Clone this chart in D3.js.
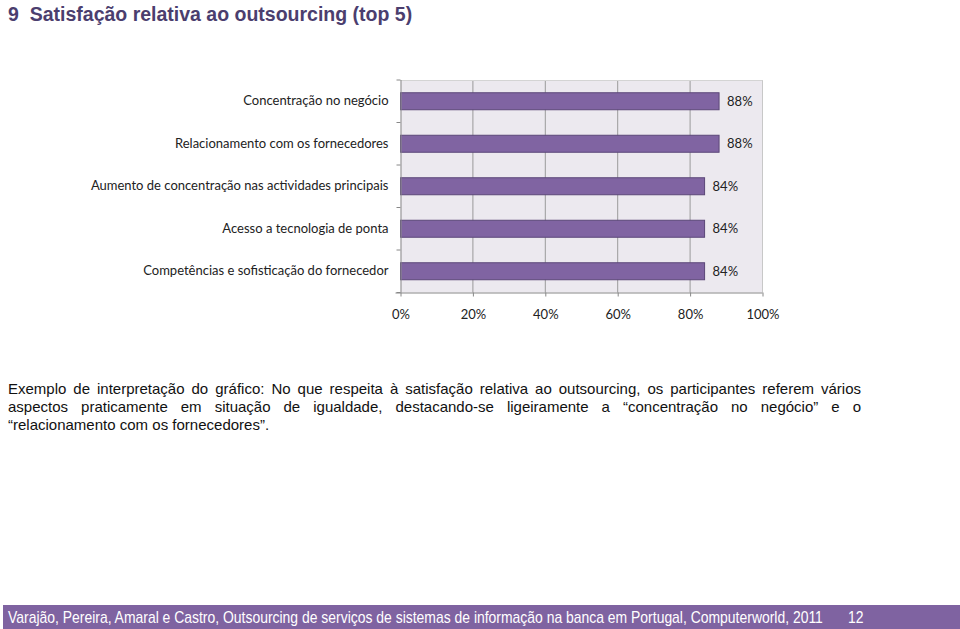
<!DOCTYPE html>
<html>
<head>
<meta charset="utf-8">
<script src="https://cdn.jsdelivr.net/npm/d3@7"></script>
<style>
  body { margin: 0; background: #fff; }
  svg { display: block; }
</style>
</head>
<body>
<svg id="chart" width="960" height="629"></svg>
<script>
const categories = [
  "Concentração no negócio",
  "Relacionamento com os fornecedores",
  "Aumento de concentração nas actividades principais",
  "Acesso a tecnologia de ponta",
  "Competências e sofisticação do fornecedor"
]
const values = [0.88, 0.88, 0.84, 0.84, 0.84]
const xTicks = [0, 0.2, 0.4, 0.6, 0.8, 1]

const titleText = "9  Satisfação relativa ao outsourcing (top 5)"
const paragraphLines = [
  "Exemplo de interpretação do gráfico: No que respeita à satisfação relativa ao outsourcing, os participantes referem vários",
  "aspectos praticamente em situação de igualdade, destacando-se ligeiramente a “concentração no negócio” e o",
  "“relacionamento com os fornecedores”."
]
const footerText = "Varajão, Pereira, Amaral e Castro, Outsourcing de serviços de sistemas de informação na banca em Portugal, Computerworld, 2011"
const pageNumber = "12"

const PURPLE = "#8064A2"
const CHART_FONT = "Lato, 'Open Sans', sans-serif"
const TEXT_FONT = "'Liberation Sans', Arial, sans-serif"

const svg = d3.select("#chart")

// title
svg.append("text")
  .attr("x", 8)
  .attr("y", 21)
  .style("font-family", TEXT_FONT)
  .style("font-weight", "bold")
  .style("font-size", "19.5px")
  .attr("fill", "#4b3e6e")
  .attr("xml:space", "preserve")
  .text(titleText)

// chart area
const plot = {left: 400.5, top: 80, width: 362, height: 212.5}

const x = d3.scaleLinear().domain([0, 1]).range([0, plot.width])
const y = d3.scaleBand().domain(categories).range([0, plot.height]).paddingInner(0.6).paddingOuter(0.3)

const g = svg.append("g").attr("transform", `translate(${plot.left},${plot.top})`)

g.append("rect")
  .attr("width", plot.width)
  .attr("height", plot.height)
  .attr("fill", "#ECE9EF")

// vertical gridlines
g.selectAll(".grid")
  .data(xTicks.slice(1))
  .join("line")
  .attr("class", "grid")
  .attr("x1", d => x(d)).attr("x2", d => x(d))
  .attr("y1", 0).attr("y2", plot.height)
  .attr("stroke", d => d === 1 ? "#c8c8c8" : "#9a9a9a")
  .attr("stroke-width", 1)

// top border
g.append("line")
  .attr("x1", 0).attr("x2", plot.width)
  .attr("y1", 0.5).attr("y2", 0.5)
  .attr("stroke", "#d4d4d4")

// bars
g.selectAll(".bar")
  .data(categories)
  .join("rect")
  .attr("class", "bar")
  .attr("x", 0)
  .attr("y", d => y(d))
  .attr("width", (d, i) => x(values[i]))
  .attr("height", y.bandwidth())
  .attr("fill", PURPLE)
  .attr("stroke", "#5b4778")
  .attr("stroke-width", 1)

// value labels
g.selectAll(".val")
  .data(categories)
  .join("text")
  .attr("class", "val")
  .attr("x", (d, i) => x(values[i]) + 8)
  .attr("y", d => y(d) + y.bandwidth() / 2)
  .attr("dy", "0.36em")
  .style("font-family", CHART_FONT)
  .style("font-size", "13px")
  .attr("fill", "#222")
  .text((d, i) => Math.round(values[i] * 100) + "%")

// x axis
const xAxis = d3.axisBottom(x)
  .tickValues(xTicks)
  .tickSize(4)
  .tickPadding(13)
  .tickFormat(d => Math.round(d * 100) + "%")

const xg = g.append("g")
  .attr("transform", `translate(0,${plot.height})`)
  .call(xAxis)
xg.select(".domain").attr("stroke", "#888").attr("d", `M-5,0.5H${plot.width}`)
xg.selectAll(".tick line").attr("stroke", "#888")
xg.selectAll(".tick text")
  .style("font-family", CHART_FONT)
  .style("font-size", "13px")
  .attr("fill", "#222")

// y axis
const yAxis = d3.axisLeft(y).tickSize(0).tickPadding(12)
const yg = g.append("g").call(yAxis)
yg.select(".domain").attr("stroke", "#888").attr("d", `M0.5,0V${plot.height}`)
yg.selectAll(".tick text")
  .style("font-family", CHART_FONT)
  .style("font-size", "13px")
  .attr("fill", "#222")

// y tick marks at category boundaries
const boundaries = d3.range(0, categories.length + 1).map(i => i * plot.height / categories.length)
g.selectAll(".ytick")
  .data(boundaries)
  .join("line")
  .attr("class", "ytick")
  .attr("x1", -4).attr("x2", 0)
  .attr("y1", d => d).attr("y2", d => d)
  .attr("stroke", "#888")

// paragraph, justified by spreading the words
const lineY = [394, 412, 430]
const paraLeft = 8, paraWidth = 853
paragraphLines.forEach((line, i) => {
  const words = line.split(" ")
  const t = svg.append("text")
    .attr("y", lineY[i])
    .style("font-family", TEXT_FONT)
    .style("font-size", "15px")
    .attr("fill", "#111")
  const spans = words.map(w => t.append("tspan").text(w))
  const widths = spans.map(s => s.node().getComputedTextLength())
  const total = d3.sum(widths)
  const gap = i < 2 ? (paraWidth - total) / (words.length - 1) : 4.2
  let cx = paraLeft
  spans.forEach((s, k) => {
    s.attr("x", cx)
    cx += widths[k] + gap
  })
})

// footer
svg.append("rect")
  .attr("x", 3)
  .attr("y", 605)
  .attr("width", 957)
  .attr("height", 24)
  .attr("fill", "#7F63A1")

const footG = svg.append("g")
const ft = footG.append("text")
  .style("font-family", TEXT_FONT)
  .style("font-size", "16px")
  .attr("fill", "#fff")
  .text(footerText)
const ftScale = 815 / ft.node().getComputedTextLength()
footG.attr("transform", `translate(8,623) scale(${ftScale},1)`)

const pg = svg.append("g").attr("transform", `translate(848,623) scale(${ftScale},1)`)
pg.append("text")
  .style("font-family", TEXT_FONT)
  .style("font-size", "16px")
  .attr("fill", "#fff")
  .text(pageNumber)
</script>
</body>
</html>
